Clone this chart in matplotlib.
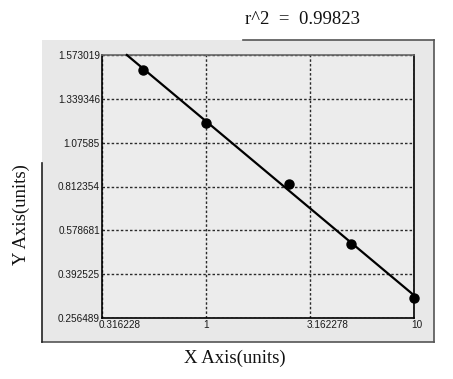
import numpy as np
import matplotlib
matplotlib.use("Agg")
import matplotlib.pyplot as plt
from matplotlib.lines import Line2D
from matplotlib.patches import Rectangle
from matplotlib.transforms import ScaledTranslation

# ---- data ----
x_vals = [0.5, 1.0, 2.5, 5.0, 10.0]
y_vals = [1.493, 1.192, 0.828, 0.521, 0.320]
y_ticks = [0.256489, 0.392525, 0.578681, 0.812354, 1.07585, 1.339346, 1.573019]
y_tick_labels = ["0.256489", "0.392525", "0.578681", "0.812354", "1.07585", "1.339346", "1.573019"]
x_ticks = [0.316228, 1, 3.162278, 10]
x_tick_labels = ["0.316228", "1", "3.162278", "10"]
r2_text = "r^2  =  0.99823"

W, H = 453, 379
fig = plt.figure(figsize=(W / 100, H / 100), dpi=100)
fig.patch.set_facecolor("white")

def fx(px):
    return px / W

def fy(py):
    return 1 - py / H

# outer gray panel
fig.patches.append(Rectangle((fx(42), fy(342)), fx(434) - fx(42), fy(40) - fy(342),
                             transform=fig.transFigure, facecolor="#e8e8e8",
                             edgecolor="none", zorder=-5))
lc = "#555555"
fig.lines.append(Line2D([fx(243), fx(434)], [fy(40), fy(40)], transform=fig.transFigure, color=lc, lw=1.2, zorder=-4))
fig.lines.append(Line2D([fx(434), fx(434)], [fy(40), fy(342)], transform=fig.transFigure, color=lc, lw=1.2, zorder=-4))
fig.lines.append(Line2D([fx(42), fx(434)], [fy(342), fy(342)], transform=fig.transFigure, color=lc, lw=1.2, zorder=-4))
fig.lines.append(Line2D([fx(42), fx(42)], [fy(163), fy(342)], transform=fig.transFigure, color="#222222", lw=1.2, zorder=-4))

left, right, top, bottom = 102, 414, 55, 318
ax = fig.add_axes([fx(left), fy(bottom), fx(right) - fx(left), fy(top) - fy(bottom)])
ax.set_zorder(2)
ax.set_facecolor("#ececec")

idx = np.arange(len(y_ticks), dtype=float)
yt = np.array(y_ticks)

def fwd(v):
    return np.interp(v, yt, idx)

def inv(p):
    return np.interp(p, idx, yt)

ax.set_xscale("log")
ax.set_yscale("function", functions=(fwd, inv))
ax.set_xlim(x_ticks[0], x_ticks[-1])
ax.set_ylim(y_ticks[0], y_ticks[-1])

# fit line in transformed space
lx = np.log10(np.array(x_vals))
ly = fwd(np.array(y_vals))
b, a = np.polyfit(lx, ly, 1)
x_start = 10 ** ((idx[-1] - a) / b)
xs = np.logspace(np.log10(max(x_start, x_ticks[0])), np.log10(x_ticks[-1]), 200)
ys = inv(a + b * np.log10(xs))
ax.plot(xs, ys, color="black", lw=1.6, zorder=3, clip_on=False)
ax.plot(x_vals, y_vals, "o", color="black", ms=6.5, zorder=4, clip_on=False)

ax.set_xticks(x_ticks)
ax.set_xticklabels(x_tick_labels)
ax.set_yticks(y_ticks)
ax.set_yticklabels(y_tick_labels)
ax.minorticks_off()
ax.tick_params(length=0, labelsize=7.2, colors="#1a1a1a", pad=1.5)
shift = ScaledTranslation(-3 / 100, 0, fig.dpi_scale_trans)
for lab in ax.get_xticklabels():
    lab.set_horizontalalignment("left")
    lab.set_fontfamily("Liberation Sans")
    lab.set_transform(lab.get_transform() + shift)
for lab in ax.get_yticklabels():
    lab.set_fontfamily("Liberation Sans")

ax.grid(True, color="#2a2a2a", linestyle=(0, (1.8, 1.5)), lw=1.0)
for s in ax.spines.values():
    s.set_color("black")
    s.set_linewidth(1.2)
ax.spines["top"].set_color("#666666")

fig.text(fx(245), fy(20), r2_text, fontfamily="Liberation Serif", fontsize=13.5,
         ha="left", va="center", color="#111111")
fig.text(fx(235), fy(358), "X Axis(units)", fontfamily="Liberation Serif", fontsize=13.5,
         ha="center", va="center", color="#111111")
fig.text(fx(21), fy(215), "Y Axis(units)", fontfamily="Liberation Serif", fontsize=13.5,
         ha="center", va="center", rotation=90, color="#111111")

fig.savefig("out.png", dpi=100)
